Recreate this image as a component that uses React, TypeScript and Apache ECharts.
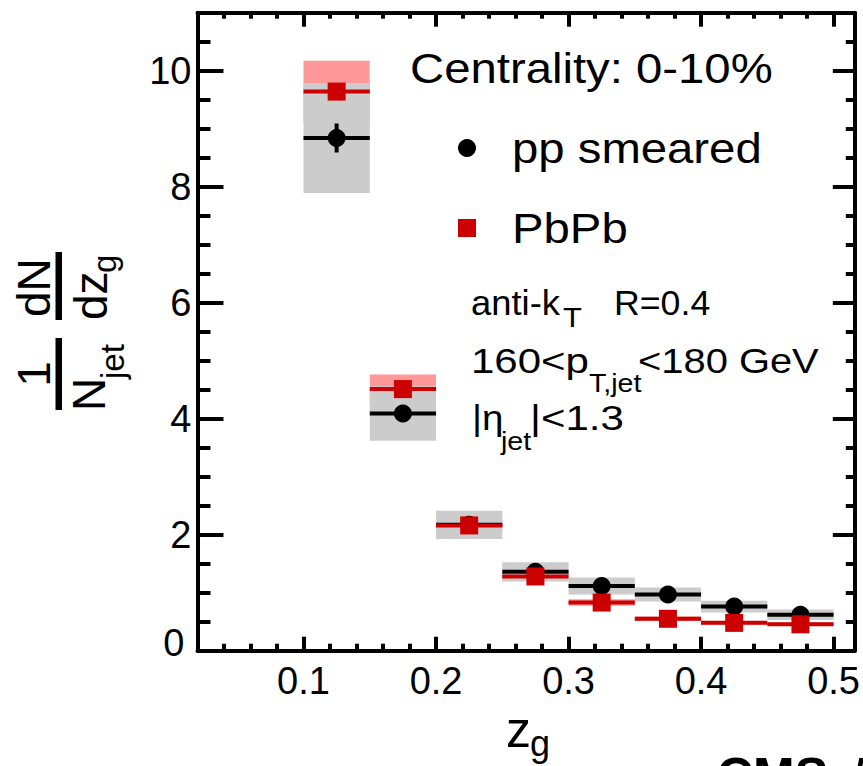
import React, { useEffect, useRef } from 'react';
import * as echarts from 'echarts';

// z_g bins
const binLow = [0.10, 0.15, 0.20, 0.25, 0.30, 0.35, 0.40, 0.45];
const binHigh = [0.15, 0.20, 0.25, 0.30, 0.35, 0.40, 0.45, 0.50];
// pp smeared
const ppValues = [8.84, 4.09, 2.17, 1.36, 1.115, 0.97, 0.76, 0.62];
const ppStat = [0.25, 0.10, 0.05, 0.03, 0.03, 0.02, 0.02, 0.02];
const ppSys = [0.95, 0.47, 0.245, 0.165, 0.145, 0.12, 0.10, 0.09];
// PbPb
const pbValues = [9.64, 4.51, 2.16, 1.28, 0.83, 0.55, 0.48, 0.455];
const pbStat = [0.12, 0.08, 0.05, 0.04, 0.03, 0.03, 0.03, 0.03];
const pbSys = [0.53, 0.25, 0.10, 0.07, 0.055, 0.04, 0.03, 0.03];
// ticks
const xTickValues = [0.1, 0.2, 0.3, 0.4, 0.5];
const yTickValues = [0, 2, 4, 6, 8, 10];

const FONT = "'Liberation Sans', Arial, Helvetica, sans-serif";
const BLACK = '#000000';
const RED = '#cc0000';
const GRAY = '#cccccc';
const PINK = '#ff9999';

function txt(x: number, baseline: number, text: string, fs: number, extra: any = {}) {
  return {
    type: 'text',
    x,
    y: baseline - 0.347 * fs,
    scaleX: extra.sx ?? 1,
    silent: true,
    style: {
      text,
      x: 0,
      y: 0,
      fontSize: fs,
      fontFamily: FONT,
      fontWeight: extra.weight ?? 'normal',
      fontStyle: extra.style ?? 'normal',
      fill: '#000',
      align: extra.align ?? 'left',
      textAlign: extra.align ?? 'left',
      verticalAlign: 'middle',
      textVerticalAlign: 'middle',
    },
  };
}

function boxSeries(values: number[], sys: number[], color: string) {
  return {
    type: 'custom',
    xAxisIndex: 0,
    yAxisIndex: 0,
    silent: true,
    data: binLow.map((l, i) => [l, binHigh[i], values[i], sys[i]]),
    renderItem: (params: any, api: any) => {
      const p1 = api.coord([api.value(0), api.value(2) + api.value(3)]);
      const p2 = api.coord([api.value(1), api.value(2) - api.value(3)]);
      return {
        type: 'rect',
        shape: { x: p1[0], y: p1[1], width: p2[0] - p1[0], height: p2[1] - p1[1] },
        style: { fill: color },
      };
    },
  };
}

function errSeries(values: number[], stat: number[], color: string) {
  return {
    type: 'custom',
    xAxisIndex: 0,
    yAxisIndex: 0,
    silent: true,
    data: binLow.map((l, i) => [l, binHigh[i], values[i], stat[i]]),
    renderItem: (params: any, api: any) => {
      const lo = api.value(0);
      const hi = api.value(1);
      const v = api.value(2);
      const e = api.value(3);
      const c = (lo + hi) / 2;
      const a = api.coord([lo, v]);
      const b = api.coord([hi, v]);
      const t = api.coord([c, v + e]);
      const d = api.coord([c, v - e]);
      return {
        type: 'group',
        children: [
          { type: 'line', shape: { x1: a[0], y1: a[1], x2: b[0], y2: b[1] }, style: { stroke: color, lineWidth: 4 } },
          { type: 'line', shape: { x1: t[0], y1: t[1], x2: d[0], y2: d[1] }, style: { stroke: color, lineWidth: 4 } },
        ],
      };
    },
  };
}

export default function App() {
  const ref = useRef<HTMLDivElement>(null);

  useEffect(() => {
    if (!ref.current) return;
    const chart = echarts.init(ref.current, undefined, { renderer: 'svg' });

    const tickStyle = { color: BLACK, width: 4 };
    const xCommon = { type: 'value', min: 0.02, max: 0.516, splitLine: { show: false }, gridIndex: 0 };
    const yCommon = { type: 'value', min: 0, max: 11, splitLine: { show: false }, gridIndex: 0 };

    const option: any = {
      animation: false,
      grid: { left: 197.5, top: 12.7, width: 659.2, height: 638, containLabel: false },
      xAxis: [
        {
          ...xCommon, position: 'bottom', interval: 0.02,
          axisLine: { show: true, onZero: false, lineStyle: { color: BLACK, width: 4 } },
          axisTick: { show: true, inside: true, length: 7, lineStyle: tickStyle },
          axisLabel: { show: false },
        },
        {
          ...xCommon, position: 'bottom',
          axisLine: { show: false, onZero: false },
          axisTick: { show: true, inside: true, length: 14, customValues: xTickValues, lineStyle: tickStyle },
          axisLabel: {
            show: true, customValues: xTickValues, margin: 11, fontSize: 38, fontFamily: FONT, color: BLACK,
            formatter: (v: number) => (Math.round(v * 10) / 10).toFixed(1),
          },
        },
        {
          ...xCommon, position: 'top', interval: 0.02,
          axisLine: { show: true, onZero: false, lineStyle: { color: BLACK, width: 4 } },
          axisTick: { show: true, inside: true, length: 6, lineStyle: tickStyle },
          axisLabel: { show: false },
        },
        {
          ...xCommon, position: 'top',
          axisLine: { show: false, onZero: false },
          axisTick: { show: true, inside: true, length: 14, customValues: xTickValues, lineStyle: tickStyle },
          axisLabel: { show: false },
        },
      ],
      yAxis: [
        {
          ...yCommon, position: 'left', interval: 0.5,
          axisLine: { show: true, onZero: false, lineStyle: { color: BLACK, width: 4 } },
          axisTick: { show: true, inside: true, length: 13, lineStyle: tickStyle },
          axisLabel: { show: false },
        },
        {
          ...yCommon, position: 'left', interval: 2,
          axisLine: { show: false, onZero: false },
          axisTick: { show: true, inside: true, length: 26, lineStyle: tickStyle },
          axisLabel: {
            show: true, margin: 6, fontSize: 38, fontFamily: FONT, color: BLACK,
            formatter: (v: number) => (yTickValues.indexOf(v) > 0 ? String(v) : ''),
          },
        },
        {
          ...yCommon, position: 'right', interval: 0.5,
          axisLine: { show: true, onZero: false, lineStyle: { color: BLACK, width: 4 } },
          axisTick: { show: true, inside: true, length: 9, lineStyle: tickStyle },
          axisLabel: { show: false },
        },
        {
          ...yCommon, position: 'right', interval: 2,
          axisLine: { show: false, onZero: false },
          axisTick: { show: true, inside: true, length: 22, lineStyle: tickStyle },
          axisLabel: { show: false },
        },
      ],
      series: [
        boxSeries(pbValues, pbSys, PINK),
        boxSeries(ppValues, ppSys, GRAY),
        errSeries(ppValues, ppStat, BLACK),
        {
          type: 'scatter', name: 'pp smeared', xAxisIndex: 0, yAxisIndex: 0, silent: true,
          symbol: 'circle', symbolSize: 18, itemStyle: { color: BLACK, opacity: 1 },
          data: binLow.map((l, i) => [(l + binHigh[i]) / 2, ppValues[i]]),
        },
        errSeries(pbValues, pbStat, RED),
        {
          type: 'scatter', name: 'PbPb', xAxisIndex: 0, yAxisIndex: 0, silent: true,
          symbol: 'rect', symbolSize: 18, itemStyle: { color: RED, opacity: 1 },
          data: binLow.map((l, i) => [(l + binHigh[i]) / 2, pbValues[i]]),
        },
      ],
      graphic: {
        elements: [
          // y-axis zero label
          txt(184.5, 656.5, '0', 38, { align: 'right' }),
          // legend
          txt(410, 83, 'Centrality: 0-10%', 43, { sx: 1.1 }),
          { type: 'circle', silent: true, shape: { cx: 467, cy: 148, r: 9 }, style: { fill: BLACK } },
          txt(512, 163, 'pp smeared', 43, { sx: 1.1 }),
          { type: 'rect', silent: true, shape: { x: 458, y: 219, width: 18, height: 18 }, style: { fill: RED } },
          txt(512, 243, 'PbPb', 43, { sx: 1.1 }),
          // jet selection text
          txt(471, 315, 'anti-k', 35, { sx: 1.04 }),
          txt(563, 327, 'T', 28, { sx: 1.1 }),
          txt(614, 315, 'R=0.4', 35, { sx: 1.02 }),
          txt(471, 373, '160<p', 35, { sx: 1.2 }),
          txt(589, 392, 'T,jet', 26, { sx: 1.1 }),
          txt(638, 373, '<180 GeV', 35, { sx: 1.14 }),
          txt(472, 430, '|η', 35, { sx: 1.1 }),
          txt(501, 450, 'jet', 26, { sx: 1.1 }),
          txt(530, 430, '|<1.3', 35, { sx: 1.2 }),
          // x axis title
          txt(506, 747, 'z', 50),
          txt(530, 756, 'g', 36),
          // CMS label (cut off at the page edge, as in the reference)
          txt(717, 793, 'CMS', 50, { weight: 'bold' }),
          txt(851, 793, 'Preliminary', 50, { style: 'italic' }),
          // y axis title (rotated)
          {
            type: 'group', x: 0, y: 500, rotation: Math.PI / 2, silent: true,
            children: [
              txt(126, 50, '1', 46, { align: 'center' }),
              { type: 'rect', shape: { x: 90, y: 55.5, width: 72, height: 6.5 }, style: { fill: BLACK } },
              txt(89, 105, 'N', 46),
              txt(121, 124, 'jet', 33),
              txt(183, 50, 'dN', 46),
              { type: 'rect', shape: { x: 180, y: 55.5, width: 68, height: 6.5 }, style: { fill: BLACK } },
              txt(180, 107, 'dz', 46),
              txt(227, 116, 'g', 33),
            ],
          },
        ],
      },
    };

    chart.setOption(option);
    return () => chart.dispose();
  }, []);

  return (
    <div
      ref={ref}
      style={{ position: 'absolute', left: 0, top: 0, width: 863, height: 766, background: '#fff' }}
    />
  );
}
